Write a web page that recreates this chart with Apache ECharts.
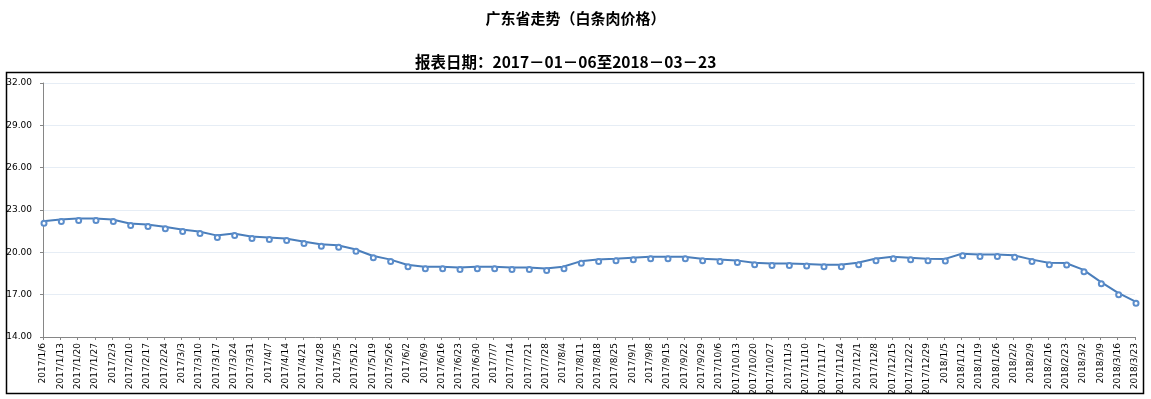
<!DOCTYPE html>
<html>
<head>
<meta charset="utf-8">
<script src="https://cdn.jsdelivr.net/npm/echarts@6/dist/echarts.min.js"></script>
<style>
html,body{margin:0;padding:0;background:#fff;}
#chart{width:1151px;height:399px;}
</style>
</head>
<body>
<div id="chart"></div>
<script>
var titleText = '广东省走势（白条肉价格）';
var subtitleText = '报表日期：2017－01－06至2018－03－23';
var categories = [
  '2017/1/6','2017/1/13','2017/1/20','2017/1/27','2017/2/3','2017/2/10','2017/2/17','2017/2/24',
  '2017/3/3','2017/3/10','2017/3/17','2017/3/24','2017/3/31','2017/4/7','2017/4/14','2017/4/21',
  '2017/4/28','2017/5/5','2017/5/12','2017/5/19','2017/5/26','2017/6/2','2017/6/9','2017/6/16',
  '2017/6/23','2017/6/30','2017/7/7','2017/7/14','2017/7/21','2017/7/28','2017/8/4','2017/8/11',
  '2017/8/18','2017/8/25','2017/9/1','2017/9/8','2017/9/15','2017/9/22','2017/9/29','2017/10/6',
  '2017/10/13','2017/10/20','2017/10/27','2017/11/3','2017/11/10','2017/11/17','2017/11/24','2017/12/1',
  '2017/12/8','2017/12/15','2017/12/22','2017/12/29','2018/1/5','2018/1/12','2018/1/19','2018/1/26',
  '2018/2/2','2018/2/9','2018/2/16','2018/2/23','2018/3/2','2018/3/9','2018/3/16','2018/3/23'
];
var prices = [
  22.20,22.33,22.40,22.40,22.32,22.05,21.98,21.82,
  21.62,21.48,21.20,21.34,21.12,21.05,20.98,20.77,
  20.58,20.50,20.22,19.76,19.50,19.12,18.98,18.98,
  18.92,18.98,18.98,18.92,18.92,18.85,18.98,19.36,
  19.50,19.55,19.62,19.69,19.69,19.69,19.55,19.50,
  19.43,19.26,19.20,19.20,19.18,19.12,19.12,19.26,
  19.55,19.69,19.62,19.55,19.52,19.90,19.84,19.84,
  19.79,19.50,19.26,19.24,18.77,17.92,17.14,16.53
];
var yMin = 14, yMax = 32, yStep = 3;

var chart = echarts.init(document.getElementById('chart'), null, {renderer:'canvas'});
chart.setOption({
  animation:false,
  backgroundColor:'#ffffff',
  title:[
    {text:titleText, left:'center', top:6,
     textStyle:{fontSize:15, fontWeight:'bold', color:'#000', fontFamily:'"Noto Sans CJK SC", sans-serif'}},
    {text:subtitleText, left:410, top:49,
     textStyle:{fontSize:15.5, fontWeight:'bold', color:'#000', fontFamily:'"Noto Sans CJK SC", sans-serif'}}
  ],
  graphic:[{
    type:'rect', silent:true, z:-1,
    shape:{x:6.5, y:72.5, width:1137, height:321},
    style:{fill:'none', stroke:'#000', lineWidth:1.5}
  }],
  grid:{left:43, right:16, top:83, bottom:62, containLabel:false},
  xAxis:{
    type:'category', data:categories, boundaryGap:false,
    axisLine:{lineStyle:{color:'#868686', width:1}},
    axisTick:{show:true, alignWithLabel:true, length:3, interval:0, lineStyle:{color:'#868686'}},
    axisLabel:{interval:0, rotate:90, fontSize:9, color:'#000', margin:6, fontFamily:'"DejaVu Sans", sans-serif'},
    splitLine:{show:false}
  },
  yAxis:{
    type:'value', min:yMin, max:yMax, interval:yStep,
    axisLine:{show:true, lineStyle:{color:'#868686', width:1}},
    axisTick:{show:true, length:3, lineStyle:{color:'#868686'}},
    axisLabel:{fontSize:9, color:'#000', margin:11, fontFamily:'"DejaVu Sans", sans-serif',
      formatter:function(v){return v.toFixed(2);}},
    splitLine:{show:true, lineStyle:{color:'#E6EDF5', width:1}}
  },
  series:[{
    type:'line', data:prices,
    symbol:'emptyCircle', symbolSize:5, symbolOffset:[1,2], showAllSymbol:true,
    lineStyle:{color:'#4A7EBB', width:2},
    itemStyle:{color:'#5B8DCB', borderWidth:1}
  }]
});
</script>
</body>
</html>
